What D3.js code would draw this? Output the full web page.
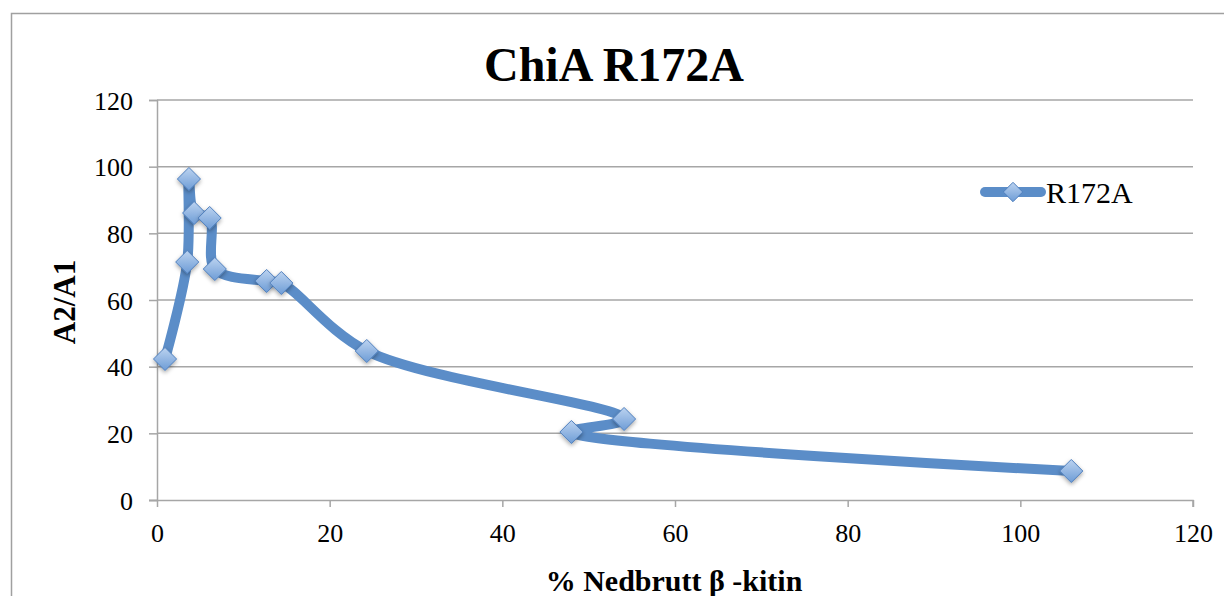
<!DOCTYPE html>
<html><head><meta charset="utf-8">
<script src="https://cdn.jsdelivr.net/npm/d3@7"></script>
<style>body{margin:0;background:#fff}svg{display:block}</style>
</head><body>
<svg id="c" width="1224" height="596"></svg>
<script>
const xValues = [0.93, 3.5, 3.7, 4.3, 6.1, 6.7, 12.7, 14.4, 24.3, 54.1, 48.0, 105.9];
const yValues = [42.3, 71.4, 96.3, 86.1, 84.6, 69.3, 65.7, 65.1, 44.7, 24.3, 20.4, 8.7];
const xTicks = [0, 20, 40, 60, 80, 100, 120];
const yTicks = [0, 20, 40, 60, 80, 100, 120];
const seriesName = "R172A";
const title = "ChiA R172A";
const xTitle = "% Nedbrutt β -kitin";
const yTitle = "A2/A1";

const svg = d3.select("#c");
const font = "'Liberation Serif','Times New Roman',serif";
const tickFont = "'Liberation Serif','Times New Roman',serif";
const x = d3.scaleLinear().domain([0,120]).range([157,1193]);
const y = d3.scaleLinear().domain([0,120]).range([500,100]);
const blue = "#5b8dc8";

const defs = svg.append("defs");
const g = defs.append("linearGradient").attr("id","mk").attr("x1",0).attr("y1",0).attr("x2",0).attr("y2",1);
g.append("stop").attr("offset","0%").attr("stop-color","#bcd3f0");
g.append("stop").attr("offset","100%").attr("stop-color","#6d9cd6");
const f = defs.append("filter").attr("id","sh").attr("x","-50%").attr("y","-50%").attr("width","200%").attr("height","200%");
f.append("feDropShadow").attr("dx",0).attr("dy",2).attr("stdDeviation",2).attr("flood-color","#000").attr("flood-opacity",0.35);

// outer border
svg.append("rect").attr("x",11.5).attr("y",13.5).attr("width",1230).attr("height",600)
  .attr("fill","none").attr("stroke","#a0a0a0").attr("stroke-width",1.5);

// gridlines
svg.append("g").selectAll("line").data(yTicks.filter(d=>d>0)).join("line")
  .attr("x1",x(0)).attr("x2",x(120)).attr("y1",d=>y(d)).attr("y2",d=>y(d))
  .attr("stroke","#a6a6a6").attr("stroke-width",1.5);

// axes
const yAxis = d3.axisLeft(y).tickValues(yTicks).tickSize(8).tickPadding(16);
const ya = svg.append("g").attr("transform",`translate(${x(0)},0)`).call(yAxis);
const xAxis = d3.axisBottom(x).tickValues(xTicks).tickSize(7).tickPadding(17);
const xa = svg.append("g").attr("transform",`translate(0,${y(0)})`).call(xAxis);
[ya,xa].forEach(a=>{
  a.select(".domain").attr("stroke","#a6a6a6").attr("stroke-width",1.5);
  a.selectAll(".tick line").attr("stroke","#a6a6a6").attr("stroke-width",1.5);
  a.selectAll(".tick text").attr("font-family",tickFont).attr("font-size",26).attr("fill","#000");
});
xa.select(".domain").attr("d",`M${x(0)-8},0.5H${x(120)}V7`);
ya.selectAll(".tick text").attr("dy","0.35em");

// line
const pts = xValues.map((v,i)=>[x(v), y(yValues[i])]);
svg.append("path").attr("d", d3.line().curve(d3.curveCatmullRom.alpha(0.5))(pts))
  .attr("fill","none").attr("stroke",blue).attr("stroke-width",10)
  .attr("stroke-linejoin","round").attr("stroke-linecap","round");

// markers
const diamond = d3.symbol().type(d3.symbolDiamond2).size(340);
svg.append("g").selectAll("path").data(pts).join("path")
  .attr("transform",d=>`translate(${d[0]},${d[1]})`)
  .attr("d",diamond).attr("fill","url(#mk)").attr("stroke","#4f7fbd").attr("stroke-width",1)
  .attr("filter","url(#sh)");

// legend
svg.append("line").attr("x1",985).attr("x2",1041).attr("y1",192).attr("y2",192)
  .attr("stroke",blue).attr("stroke-width",10).attr("stroke-linecap","round");
svg.append("path").attr("transform","translate(1013,192)").attr("d",d3.symbol().type(d3.symbolDiamond2).size(240))
  .attr("fill","url(#mk)").attr("stroke","#4f7fbd").attr("stroke-width",1);
svg.append("text").attr("x",1046).attr("y",203).text(seriesName)
  .attr("font-family",tickFont).attr("font-size",30);

// titles
svg.append("text").attr("x",614).attr("y",81).attr("text-anchor","middle").text(title)
  .attr("font-family",font).attr("font-weight","bold").attr("font-size",48);
svg.append("text").attr("x",674).attr("y",591).attr("text-anchor","middle").text(xTitle)
  .attr("font-family",font).attr("font-weight","bold").attr("font-size",30);
svg.append("text").attr("transform","translate(75,302) rotate(-90)").attr("text-anchor","middle").text(yTitle)
  .attr("font-family",font).attr("font-weight","bold").attr("font-size",31);
</script>
</body></html>
